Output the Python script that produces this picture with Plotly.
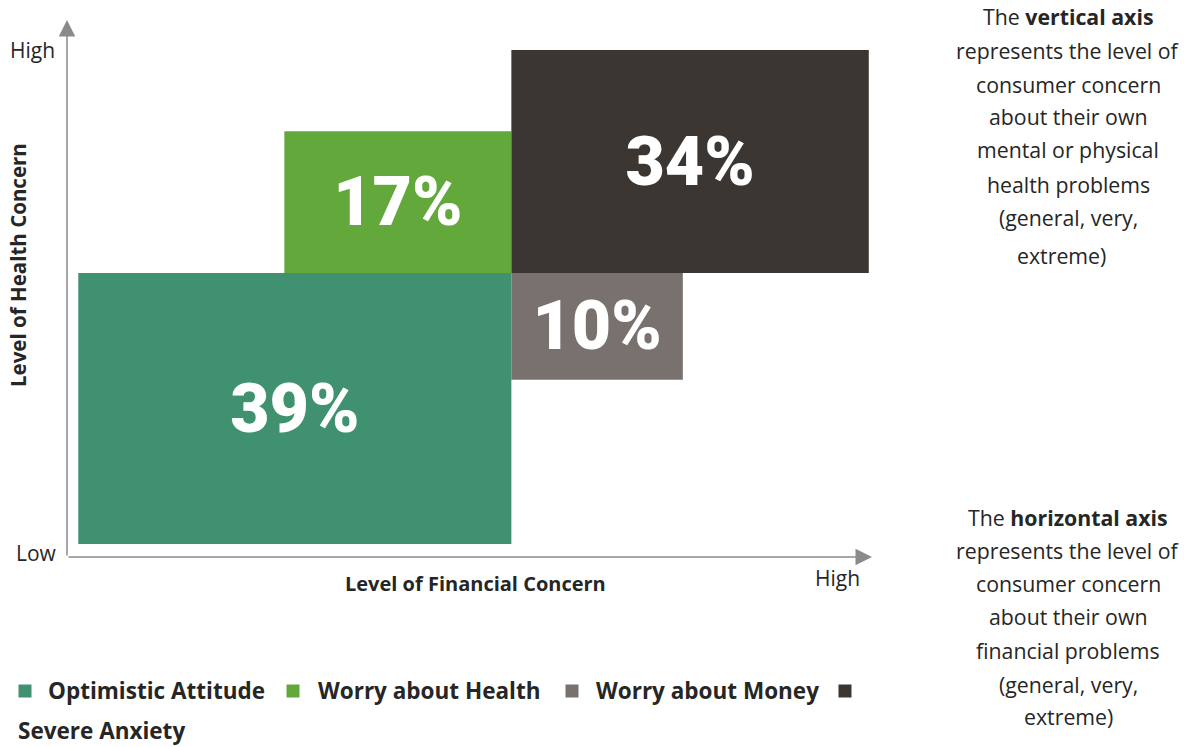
import plotly.graph_objects as go

# ---------------- data ----------------
categories = ["Optimistic Attitude", "Worry about Health", "Worry about Money", "Severe Anxiety"]
shares = [39, 17, 10, 34]
# concern-level extents of each segment (0 = low, 100 = high)
fin_lo = [1.4, 27.0, 55.2, 55.2]
fin_hi = [55.2, 55.2, 76.5, 99.6]
health_lo = [2.4, 52.9, 33.0, 52.9]
health_hi = [52.9, 79.3, 52.9, 94.4]
colors = ["#3F9170", "#62A83B", "#78716E", "#3C3633"]

W, H = 1184, 747
L, R, T, B = 67, 872, 20, 557  # plot area in pixels


def px(x):
    return (x - L) / (R - L)


def py(y):
    return (B - y) / (B - T)


fig = go.Figure()
for i, cat in enumerate(categories):
    fig.add_trace(go.Bar(
        x=[(fin_lo[i] + fin_hi[i]) / 2],
        width=[fin_hi[i] - fin_lo[i]],
        base=[health_lo[i]],
        y=[health_hi[i] - health_lo[i]],
        name=cat,
        marker=dict(color=colors[i], line=dict(width=0)),
        text=[f"{shares[i]}%"],
        textposition="inside",
        insidetextanchor="middle",
        textangle=0,
        textfont=dict(family="Roboto", size=68, color="white", weight=900),
        hoverinfo="skip",
        showlegend=False,
    ))

TXT = "#262626"
AX = "#8a8a8a"
ann = []
# axis arrows
ann.append(dict(x=0, y=100, xref="x", yref="y", ax=0, ay=0, axref="x", ayref="y",
                showarrow=True, arrowhead=2, arrowsize=2.2, arrowwidth=1.5,
                arrowcolor=AX, text=""))
ann.append(dict(x=100, y=0, xref="x", yref="y", ax=0, ay=0, axref="x", ayref="y",
                showarrow=True, arrowhead=2, arrowsize=2.2, arrowwidth=1.5,
                arrowcolor=AX, text=""))


def text(t, x, y, size=19, bold=False, angle=0, color=TXT, xanchor="center"):
    ann.append(dict(text=f"<b>{t}</b>" if bold else t, x=px(x), y=py(y),
                    xref="paper", yref="paper", showarrow=False,
                    xanchor=xanchor, yanchor="middle", textangle=angle,
                    font=dict(family="Open Sans", size=size, color=color)))


text("High", 32, 50, size=21)
text("Low", 36, 553, size=21)
text("High", 837, 578, size=21)
text("Level of Financial Concern", 475, 583, size=20, bold=True)
text("Level of Health Concern", 18, 265, size=20.5, bold=True, angle=-90)

block1 = ["The <b>vertical axis</b>", "represents the level of", "consumer concern",
          "about their own", "mental or physical", "health problems",
          "(general, very,", "extreme)"]
ys1 = [17, 50, 84, 117, 150, 184, 217, 255]
xs1 = [1068, 1068, 1068, 1068, 1068, 1068, 1068, 1061]
for t, x, y in zip(block1, xs1, ys1):
    text(t, x, y, size=21.3)

block2 = ["The <b>horizontal axis</b>", "represents the level of", "consumer concern",
          "about their own", "financial problems", "(general, very,", "extreme)"]
ys2 = [517, 550, 583, 616, 650, 684, 716]
for t, y in zip(block2, ys2):
    text(t, 1068, y, size=21.3)

# custom legend (wraps like the reference)
shapes = []
leg_marker_x = [25, 293, 572, 845]
leg_text_x = [46, 316, 594, None]
for i, cat in enumerate(categories):
    cx, cy = leg_marker_x[i], 691
    shapes.append(dict(type="rect", xref="paper", yref="paper",
                       x0=px(cx - 6.5), x1=px(cx + 6.5), y0=py(cy + 6.5), y1=py(cy - 6.5),
                       fillcolor=colors[i], line=dict(width=0)))
    if leg_text_x[i] is not None:
        text(cat, leg_text_x[i], 690, size=22.5, bold=True, xanchor="left")
    else:
        text(cat, 16, 730, size=22.5, bold=True, xanchor="left")

fig.update_layout(
    width=W, height=H,
    margin=dict(l=L, r=W - R, t=T, b=H - B, pad=0),
    paper_bgcolor="white", plot_bgcolor="white",
    barmode="overlay",
    xaxis=dict(range=[0, 100], visible=False, fixedrange=True),
    yaxis=dict(range=[0, 100], visible=False, fixedrange=True),
    annotations=ann,
    shapes=shapes,
    showlegend=False,
    font=dict(family="Open Sans", color=TXT),
)

fig.write_html("out.html", config={"displayModeBar": False})
